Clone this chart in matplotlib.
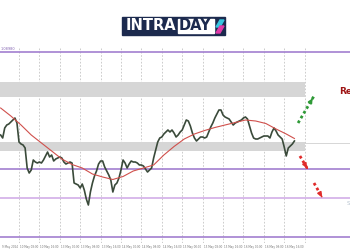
import numpy as np
import matplotlib
matplotlib.use("Agg")
import matplotlib.pyplot as plt
from matplotlib.patches import Rectangle, Polygon

# price bars (close), one value per bar
close = [1.0815, 1.0812, 1.0822, 1.0825, 1.0826, 1.0828, 1.0830, 1.0832, 1.0827, 1.0808,
         1.0806, 1.0805, 1.0802, 1.0782, 1.0777, 1.0780, 1.0790, 1.0788, 1.0787, 1.0788,
         1.0787, 1.0790, 1.0794, 1.0798, 1.0793, 1.0795, 1.0789, 1.0791, 1.0792, 1.0793,
         1.0792, 1.0788, 1.0786, 1.0787, 1.0788, 1.0787, 1.0767, 1.0766, 1.0765, 1.0762,
         1.0766, 1.0760, 1.0751, 1.0745, 1.0758, 1.0767, 1.0774, 1.0779, 1.0786, 1.0789,
         1.0789, 1.0783, 1.0779, 1.0775, 1.0770, 1.0758, 1.0765, 1.0767, 1.0772, 1.0780,
         1.0790, 1.0787, 1.0782, 1.0786, 1.0789, 1.0788, 1.0788, 1.0787, 1.0785, 1.0785,
         1.0784, 1.0781, 1.0778, 1.0780, 1.0782, 1.0792, 1.0800, 1.0808, 1.0812, 1.0813,
         1.0816, 1.0818, 1.0820, 1.0818, 1.0820, 1.0817, 1.0813, 1.0815, 1.0818, 1.0820,
         1.0825, 1.0830, 1.0829, 1.0824, 1.0817, 1.0812, 1.0809, 1.0811, 1.0813, 1.0813,
         1.0812, 1.0813, 1.0818, 1.0823, 1.0827, 1.0832, 1.0836, 1.0840, 1.0840, 1.0835,
         1.0833, 1.0832, 1.0831, 1.0828, 1.0825, 1.0827, 1.0828, 1.0829, 1.0830, 1.0832,
         1.0833, 1.0831, 1.0824, 1.0817, 1.0812, 1.0811, 1.0811, 1.0812, 1.0813, 1.0814,
         1.0814, 1.0814, 1.0812, 1.0818, 1.0822, 1.0819, 1.0815, 1.0813, 1.0811, 1.0803,
         1.0794, 1.0802, 1.0804, 1.0806, 1.0809]
bars = np.arange(1, len(close) + 1)

# moving average, read every 5 bars
ma_bars = [1, 6, 11, 16, 21, 26, 31, 36, 41, 46, 51, 56, 61, 66, 71, 76, 81, 86, 91, 96,
           101, 106, 111, 116, 121, 126, 131, 136, 141, 145]
ma = [1.0842, 1.0834, 1.0825, 1.0815, 1.0807, 1.0799, 1.0791, 1.07855, 1.0782, 1.0776,
      1.0773, 1.07705, 1.07735, 1.0779, 1.0782, 1.0785, 1.0795, 1.08035, 1.0811, 1.0816,
      1.08195, 1.08225, 1.0825, 1.08275, 1.0830, 1.0829, 1.08265, 1.0821, 1.0816, 1.08115]

# levels
level_lines = [1.0898, 1.0781, 1.0752, 1.0713]
level_colors = ['#a27fd0', '#a27fd0', '#d2aee8', '#a27fd0']
zones = [(1.0853, 1.0868), (1.0799, 1.0808)]
price_line = 1.0807

# scenario arrows: (start bar, start price, end bar, end price)
up_arrow = (146.8, 1.0827, 154.6, 1.0854)
down_arrows = [(147.7, 1.0794, 151.2, 1.0782), (154.6, 1.0767, 158.5, 1.0753)]

grid_bars = list(range(10, 151, 10))
date_labels = ["9 May 2024", "10 May 08:00", "10 May 16:00", "13 May 00:00", "13 May 08:00",
               "13 May 16:00", "14 May 00:00", "14 May 08:00", "14 May 16:00", "15 May 00:00",
               "15 May 08:00", "15 May 16:00", "16 May 00:00", "16 May 08:00", "16 May 16:00"]

fig = plt.figure(figsize=(3.5, 2.5), dpi=100)
ax = fig.add_axes([0, 0.028, 1, 0.78])
ax.set_xlim(0.686, 172.25)
ax.set_ylim(1.0707, 1.0902)
ax.axis('off')

for g in grid_bars:
    ax.axvline(g, color='#c4c4c4', lw=0.6, ls=(0, (2, 2)), zorder=1)

for lo, hi in zones:
    ax.fill_between([0.686, 150], lo, hi, color='#d6d6d6', lw=0, zorder=2)
ax.axhline(price_line, color='#d0d0d0', lw=0.6, zorder=1)

for lv, c in zip(level_lines, level_colors):
    ax.axhline(lv, color=c, lw=1.2, zorder=3)

ax.plot(bars, close, color='#3a4a3a', lw=1.2, zorder=4)
ax.plot(ma_bars, ma, color='#d0504c', lw=0.8, zorder=5)

def dotted_arrow(a, color):
    x0, y0, x1, y1 = a
    ax.plot([x0, x1], [y0, y1], color=color, lw=2, ls=(0, (1, 1)), zorder=6)
    ax.annotate('', xy=(x1, y1), xytext=(x0 + (x1 - x0) * 0.8, y0 + (y1 - y0) * 0.8),
                arrowprops=dict(arrowstyle='-|>', color=color, lw=1.2, mutation_scale=6),
                zorder=6)

dotted_arrow(up_arrow, '#2f9a37')
for a in down_arrows:
    dotted_arrow(a, '#e02b2b')

ax.text(166.9, 1.0858, 'Resistance', color='#9e1414', fontsize=6.5, fontweight='bold',
        va='center', ha='left')
ax.text(170.6, 1.0747, 'Support', color='#b8c4d0', fontsize=4, va='center', ha='left')
ax.text(1, 1.0899, '1.08980', color='#8060b0', fontsize=2.5, va='bottom', ha='left')

for g, lab in zip([1] + grid_bars[:-1], date_labels):
    ax.text(g + 0.5, 1.0705, lab, color='#777777', fontsize=2.0, va='top', ha='left',
            clip_on=False)

# logo
def fx(x):
    return x / 350

def fy(y):
    return 1 - y / 250

fig.patches.append(Rectangle((fx(122), fy(35)), fx(103), 18 / 250, transform=fig.transFigure,
                             color='#1c2a4e', zorder=10))
fig.patches.append(Rectangle((fx(178), fy(33)), fx(36), 14 / 250, transform=fig.transFigure,
                             color='white', zorder=11))
fig.text(fx(126), fy(26), 'INTRA', color='white', fontsize=10.5, fontweight='bold',
         va='center', ha='left', zorder=12)
fig.text(fx(179), fy(26), 'DAY', color='#1c2a4e', fontsize=10.5, fontweight='bold',
         va='center', ha='left', zorder=12)
fig.patches.append(Polygon([(fx(216), fy(27)), (fx(220), fy(27)), (fx(224), fy(20)), (fx(220), fy(20))],
                           closed=True, transform=fig.transFigure, color='#35c6e0', zorder=12))
fig.patches.append(Polygon([(fx(216), fy(33)), (fx(220), fy(33)), (fx(224), fy(26)), (fx(220), fy(26))],
                           closed=True, transform=fig.transFigure, color='#e03aa8', zorder=12))

fig.savefig('out.png', dpi=100)
